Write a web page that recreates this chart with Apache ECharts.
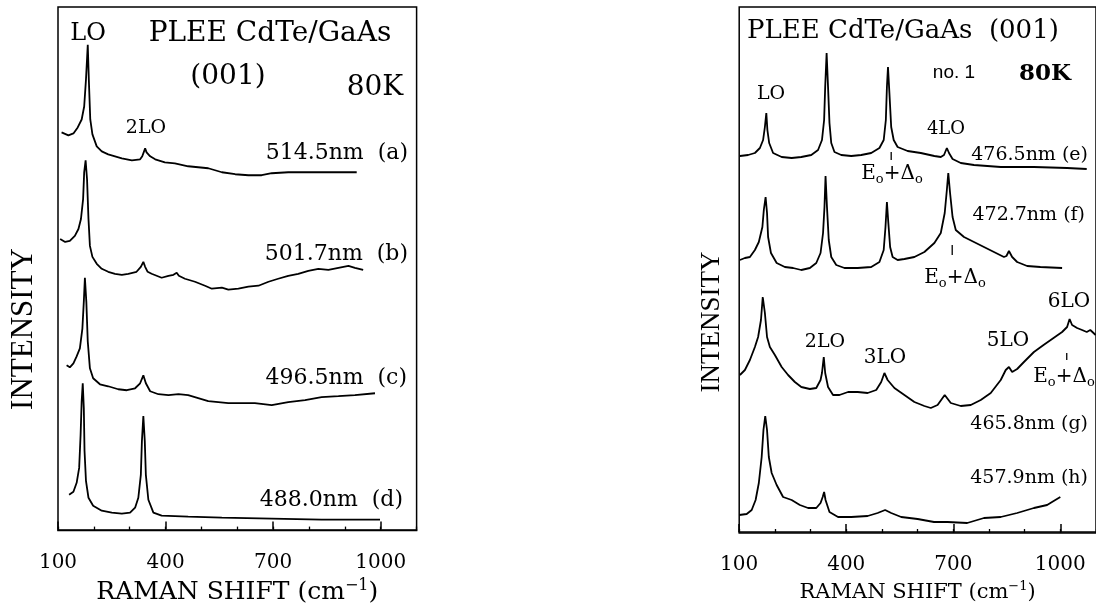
<!doctype html>
<html>
<head>
<meta charset="UTF-8">
<title>PLEE CdTe/GaAs Raman</title>
<script src="https://cdn.jsdelivr.net/npm/echarts@6/dist/echarts.min.js"></script>
<style>
  html, body { margin: 0; padding: 0; background: #fff; }
  #chart { width: 1096px; height: 610px; }
</style>
</head>
<body>
<div id="chart"></div>
<script>
// Raman shift (cm-1) vs intensity (arb. units), spectra stacked as in the figure
// left panel
var specA = [[110,399],[129,396],[143,398],[155,404],[166,412],[173,425],[178,452],[183,487],[186,452],[190,412],[196,397],[208,385],[222,380],[240,377],[278,373],[306,371],[329,372],[335,375],[343,383],[347,379],[357,375],[371,372],[398,369],[426,368],[463,365],[491,364],[519,363],[557,359],[594,357],[631,356],[668,356],[696,358],[742,359],[780,359],[817,359],[854,359],[891,359],[933,359]];
var specB = [[106,292],[120,289],[133,290],[147,295],[157,302],[164,312],[170,332],[173,359],[177,371],[181,352],[185,312],[189,285],[196,274],[208,267],[222,262],[240,259],[259,257],[278,256],[296,257],[319,259],[331,264],[338,269],[343,264],[350,259],[361,257],[375,255],[389,253],[408,255],[422,256],[431,258],[437,255],[454,252],[482,249],[510,245],[529,242],[557,243],[575,241],[603,242],[631,244],[659,245],[687,249],[714,252],[742,255],[770,257],[798,260],[826,262],[854,261],[882,263],[910,265],[928,263],[951,261]];
var specC = [[124,165],[133,163],[143,167],[152,174],[161,182],[168,202],[172,229],[175,253],[179,229],[183,189],[189,162],[198,152],[217,146],[240,144],[268,141],[292,140],[315,142],[329,147],[338,155],[345,147],[357,139],[380,136],[408,135],[436,136],[463,135],[491,132],[519,129],[547,128],[575,127],[612,127],[649,127],[696,125],[742,128],[789,130],[835,133],[882,134],[928,135],[984,137]];
var specD = [[131,35],[143,38],[152,47],[159,62],[163,95],[166,129],[169,147],[172,122],[174,79],[178,49],[185,32],[198,24],[222,19],[250,17],[278,16],[301,17],[315,22],[324,32],[331,55],[334,89],[338,114],[342,89],[345,55],[352,30],[366,17],[389,14],[463,13],[557,12],[696,11],[835,10],[998,10]];
// right panel
var specE = [[102,376],[125,377],[144,379],[158,384],[167,392],[172,405],[176,419],[179,402],[184,389],[195,379],[219,375],[247,374],[274,375],[302,377],[321,382],[332,392],[338,412],[341,445],[345,479],[349,445],[353,409],[358,389],[367,380],[386,377],[414,376],[442,377],[470,379],[493,384],[505,392],[511,412],[514,445],[517,465],[521,439],[526,405],[533,392],[544,385],[572,381],[609,379],[647,376],[665,375],[674,377],[682,384],[688,379],[698,373],[721,369],[758,367],[833,365],[926,365],[1019,364],[1074,363]];
var specF = [[102,272],[116,274],[130,275],[144,282],[155,290],[165,305],[169,322],[174,335],[178,319],[181,295],[189,279],[205,269],[228,265],[251,264],[274,262],[298,264],[316,269],[328,279],[335,299],[339,325],[342,356],[346,325],[351,292],[358,275],[372,267],[395,264],[432,264],[470,265],[493,270],[505,282],[510,305],[514,330],[518,309],[523,285],[530,275],[544,272],[563,273],[591,275],[619,280],[647,289],[665,299],[676,319],[682,342],[686,359],[691,339],[698,315],[707,302],[730,295],[758,290],[786,285],[814,280],[842,275],[849,276],[856,281],[865,275],[879,270],[907,266],[944,265],[1005,264]];
var specG = [[102,157],[116,162],[130,172],[144,185],[153,195],[161,212],[166,235],[172,219],[178,195],[186,185],[200,177],[219,165],[237,157],[256,150],[274,145],[298,143],[316,144],[328,152],[332,159],[337,175],[341,159],[349,145],[363,137],[381,137],[405,140],[432,140],[460,139],[484,142],[498,150],[507,159],[516,152],[535,144],[563,137],[591,130],[619,126],[637,124],[656,127],[676,137],[693,129],[721,126],[749,127],[777,132],[805,139],[833,152],[847,162],[856,165],[865,160],[879,163],[898,170],[926,180],[953,187],[981,194],[1005,200],[1019,205],[1026,213],[1033,207],[1047,204],[1061,202],[1074,200],[1084,202],[1099,197]];
var specH = [[100,17],[121,18],[135,22],[146,32],[155,49],[163,75],[168,102],[173,116],[178,102],[183,75],[191,59],[205,47],[223,35],[247,32],[270,27],[293,24],[316,24],[328,29],[334,35],[338,40],[342,32],[353,20],[377,15],[414,15],[460,16],[488,19],[509,22],[526,19],[554,15],[600,13],[646,10],[684,10],[739,9],[786,14],[833,15],[879,19],[926,24],[963,27],[986,32],[1000,35]];
// E0+D0 marker ticks (x position, y from, y to)
var gapMarks = [[526,380,372],[697,287,277],[1018,179,172]];
var xTicks = [100, 400, 700, 1000];

var SERIF = 'DejaVu Serif';
var chart = echarts.init(document.getElementById('chart'));

function txt(x, y, s, size, align, extra, rot) {
  var st = {
    text: s, fontSize: size, fontFamily: SERIF, fill: '#000',
    align: align || 'center', verticalAlign: 'middle',
    textAlign: align || 'center', textVerticalAlign: 'middle'
  };
  if (extra) for (var k in extra) st[k] = extra[k];
  return { type: 'text', x: x, y: y, rotation: rot || 0, style: st, z: 10 };
}

var eoRich = {
  m: { fontSize: 20, fontFamily: SERIF, lineHeight: 24, fill: '#000', color: '#000' },
  s: { fontSize: 13, fontFamily: SERIF, lineHeight: 10, verticalAlign: 'bottom', fill: '#000', color: '#000' }
};
function eo(x, y) {
  return txt(x, y, '{m|E}{s|o}{m|+Δ}{s|o}', 20, 'center', { rich: eoRich });
}

function xAxes(g, big) {
  var fs = big ? 25 : 21;
  return [{
    type: 'value', gridIndex: g, min: 100, max: 1100, interval: 300,
    position: 'bottom',
    axisLine: { lineStyle: { color: '#000', width: 1.5 } },
    axisTick: { inside: true, length: 8, lineStyle: { color: '#000', width: 1.5 } },
    splitLine: { show: false },
    axisLabel: {
      color: '#000', fontSize: 20, fontFamily: SERIF, margin: 22,
      showMaxLabel: false,
      formatter: function (v) { return xTicks.indexOf(v) >= 0 ? String(v) : ''; }
    },
    name: '{a|RAMAN SHIFT (cm}{b|−1}{a|)}',
    nameLocation: 'middle', nameGap: big ? 42 : 40,
    nameTextStyle: {
      rich: {
        a: { fontSize: fs, fontFamily: SERIF, color: '#000', lineHeight: fs + 5 },
        b: { fontSize: Math.round(fs * 0.64), fontFamily: SERIF, color: '#000', lineHeight: 14, verticalAlign: 'top' }
      }
    }
  }, {
    type: 'value', gridIndex: g, min: 100, max: 1100, interval: 100,
    position: 'bottom',
    axisLine: { show: false },
    axisTick: { inside: true, length: 4, lineStyle: { color: '#000', width: 1.3 } },
    splitLine: { show: false },
    axisLabel: { show: false }
  }];
}

function yAxis(g) {
  return { type: 'value', gridIndex: g, min: -1, max: 525, show: false };
}

function spec(data, g) {
  return {
    type: 'line', xAxisIndex: g * 2, yAxisIndex: g, data: data,
    showSymbol: false, silent: true, animation: false,
    lineStyle: { color: '#000', width: 1.8 }
  };
}

var series = [
  spec(specA, 0), spec(specB, 0), spec(specC, 0), spec(specD, 0),
  spec(specE, 1), spec(specF, 1), spec(specG, 1), spec(specH, 1)
];
gapMarks.forEach(function (m) {
  series.push({
    type: 'line', xAxisIndex: 2, yAxisIndex: 1,
    data: [[m[0], m[1]], [m[0], m[2]]],
    showSymbol: false, silent: true, animation: false,
    lineStyle: { color: '#000', width: 1.3 }
  });
});

var graphics = [
  // left panel
  txt(24, 329, 'INTENSITY', 31, 'center', { fontFamily: 'Liberation Serif' }, Math.PI / 2),
  txt(88, 34, 'LO', 24),
  txt(270, 34, 'PLEE CdTe/GaAs', 28),
  txt(228, 77, '(001)', 28),
  txt(375, 88, '80K', 28),
  txt(146, 128, '2LO', 19),
  txt(408, 153, '514.5nm  (a)', 22, 'right'),
  txt(408, 254, '501.7nm  (b)', 22, 'right'),
  txt(407, 378, '496.5nm  (c)', 22, 'right'),
  txt(403, 500, '488.0nm  (d)', 22, 'right'),
  // right panel
  txt(712, 322, 'INTENSITY', 27, 'center', { fontFamily: 'Liberation Serif' }, Math.PI / 2),
  txt(747, 31, 'PLEE CdTe/GaAs  (001)', 26, 'left'),
  txt(954, 73, 'no. 1', 19, 'center', { fontFamily: 'Liberation Sans' }),
  txt(1045, 74, '80K', 23, 'center', { fontWeight: 'bold' }),
  txt(771, 94, 'LO', 19),
  txt(946, 129, '4LO', 18),
  txt(1088, 155, '476.5nm (e)', 19, 'right'),
  eo(892, 174),
  txt(1085, 215, '472.7nm (f)', 19, 'right'),
  eo(955, 278),
  txt(1069, 302, '6LO', 20),
  txt(825, 342, '2LO', 19),
  txt(885, 358, '3LO', 20),
  txt(1008, 341, '5LO', 20),
  eo(1064, 377),
  txt(1088, 424, '465.8nm (g)', 19, 'right'),
  txt(1088, 478, '457.9nm (h)', 19, 'right')
];

var option = {
  backgroundColor: '#fff',
  animation: false,
  grid: [
    { left: 58, top: 7, width: 358.6, height: 526, show: true, borderColor: '#000', borderWidth: 1.5, backgroundColor: 'transparent' },
    { left: 739.2, top: 7, width: 358.3, height: 526, show: true, borderColor: '#000', borderWidth: 1.5, backgroundColor: 'transparent' }
  ],
  xAxis: xAxes(0, true).concat(xAxes(1, false)),
  yAxis: [yAxis(0), yAxis(1)],
  series: series,
  graphic: graphics
};

chart.setOption(option);
</script>
</body>
</html>
